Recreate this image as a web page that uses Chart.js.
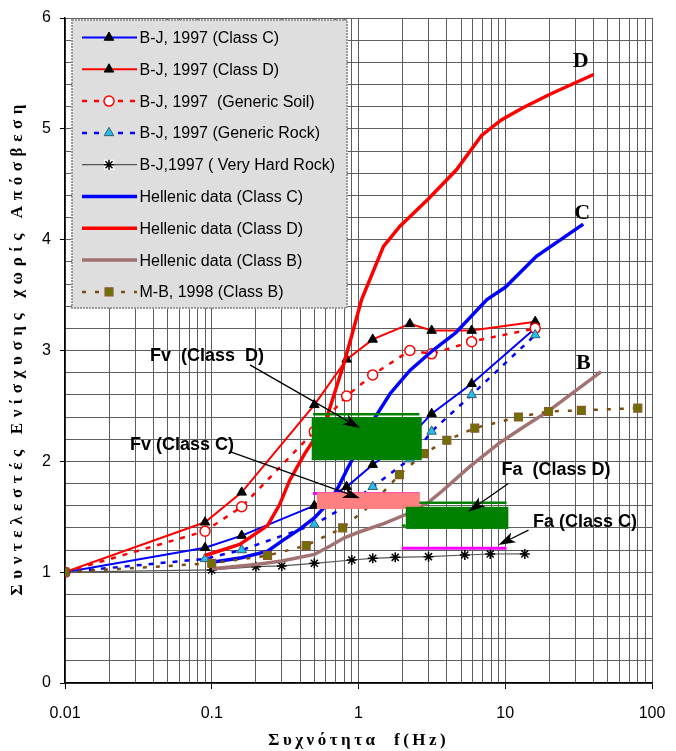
<!DOCTYPE html>
<html><head><meta charset="utf-8">
<script src="https://cdn.jsdelivr.net/npm/chart.js@4/dist/chart.umd.min.js"></script>
<style>html,body{margin:0;padding:0;background:#fff;}canvas{display:block;}</style>
</head><body>
<canvas id="c" width="676" height="751"></canvas>
<script>
// ---------- DATA ----------
const bjFreq      = [0.01, 0.09, 0.16, 0.5, 0.83, 1.25, 2.24, 3.15, 5.9, 16];
const bjClassC    = [1.0, 1.22, 1.33, 1.60, 1.77, 1.97, 2.22, 2.43, 2.70, 3.20];
const bjClassD    = [1.0, 1.45, 1.72, 2.51, 2.92, 3.10, 3.24, 3.18, 3.18, 3.26];
const bjSoil      = [1.0, 1.37, 1.59, 2.27, 2.59, 2.78, 3.00, 2.97, 3.08, 3.20];
const bjRock      = [1.0, 1.12, 1.20, 1.43, 1.60, 1.77, 2.02, 2.27, 2.60, 3.14];
const hardFreq    = [0.01, 0.1, 0.2, 0.3, 0.5, 0.9, 1.25, 1.78, 3.0, 5.3, 7.9, 13.6];
const hardRock    = [1.0, 1.02, 1.05, 1.056, 1.08, 1.11, 1.125, 1.134, 1.14, 1.155, 1.164, 1.165];
const helCFreq    = [0.1, 0.16, 0.24, 0.3, 0.4, 0.5, 0.64, 0.73, 0.83, 0.97, 1.26, 1.64, 2.24, 3.2, 4.6, 7.5, 10, 16.3, 34];
const helCVal     = [1.09, 1.13, 1.19, 1.28, 1.39, 1.49, 1.64, 1.77, 1.92, 2.09, 2.37, 2.61, 2.82, 3.0, 3.16, 3.46, 3.57, 3.85, 4.14];
const helDFreq    = [0.09, 0.155, 0.24, 0.29, 0.34, 0.43, 0.5, 0.61, 0.7, 0.79, 0.88, 1.05, 1.48, 1.91, 3.0, 4.65, 6.9, 9.4, 13.2, 20, 40];
const helDVal     = [1.15, 1.25, 1.42, 1.61, 1.83, 2.07, 2.20, 2.40, 2.65, 2.87, 3.09, 3.46, 3.94, 4.12, 4.37, 4.63, 4.94, 5.08, 5.19, 5.31, 5.49];
const helBFreq    = [0.1, 0.2, 0.3, 0.5, 0.65, 0.8, 1.0, 1.5, 2.1, 3.0, 3.7, 5.7, 9, 13, 20, 45];
const helBVal     = [1.03, 1.07, 1.10, 1.16, 1.24, 1.31, 1.36, 1.44, 1.52, 1.63, 1.73, 1.95, 2.16, 2.30, 2.46, 2.81];
const mbFreq      = [0.01, 0.1, 0.24, 0.44, 0.78, 1.25, 1.9, 2.8, 4.0, 6.2, 12.3, 19.7, 33, 80];
const mbVal       = [1.0, 1.08, 1.15, 1.24, 1.40, 1.62, 1.88, 2.07, 2.19, 2.30, 2.40, 2.45, 2.46, 2.48];

const seriesNames = ['B-J, 1997 (Class C)', 'B-J, 1997 (Class D)', 'B-J, 1997  (Generic Soil)', 'B-J, 1997 (Generic Rock)',
  'B-J,1997 ( Very Hard Rock)', 'Hellenic data (Class C)', 'Hellenic data (Class D)', 'Hellenic data (Class B)', 'M-B, 1998 (Class B)'];

// ranges: [fMin, fMax, valueMin, valueMax] / lines: [fMin, fMax, value]
const fvClassDBox  = [0.48, 2.7, 2.01, 2.40];
const fvClassDLine = [0.49, 2.6, 2.425];
const fvClassCBox  = [0.52, 2.62, 1.57, 1.72];
const fvClassCLine = [0.49, 2.6, 1.71];
const faClassDBox  = [2.1, 10.5, 1.39, 1.59];
const faClassDLine = [2.6, 10.2, 1.627];
const faClassDLow  = [1.97, 2.1, 1.42];
const faClassCLine = [1.97, 10.2, 1.215];

const xMajorValues = [0.01, 0.1, 1, 10, 100];
const xTickLabels  = ['0.01', '0.1', '1', '10', '100'];
const yTickLabels  = ['0', '1', '2', '3', '4', '5', '6'];

const annotationLabels = [
  {text: 'Fv  (Class  D)', at: [0.0928, 2.95]},
  {text: 'Fv (Class C)',   at: [0.0627, 2.147]},
  {text: 'Fa  (Class D)',  at: [22.2, 1.922]},
  {text: 'Fa (Class C)',   at: [34.9, 1.453]}
];
const arrows = [
  [[0.182, 2.87], [1.024, 2.30]],
  [[0.133, 2.087], [1.024, 1.667]],
  [[10.49, 1.80], [5.6, 1.546]],
  [[14.4, 1.38], [8.98, 1.245]]
];
const curveLetters = [
  {text: 'D', at: [32.7, 5.606]},
  {text: 'C', at: [33.5, 4.238]},
  {text: 'B', at: [34.0, 2.885]}
];
const xTitle = 'Συχνότητα  f(Hz)';
const yTitle = 'Συντελεστές Ενίσχυσης χωρίς Απόσβεση';

// ---------- helpers ----------
const zip = (xs, ys) => xs.map((v, i) => ({x: v, y: ys[i]}));
const freqTicks = [];
for (let e = -2; e <= 1; e++) for (let k = 1; k <= 9; k++) freqTicks.push(Number((k * Math.pow(10, e)).toPrecision(2)));
freqTicks.push(100);
const isInt = v => Math.abs(v - Math.round(v)) < 1e-6;

const datasets = [
  {data: zip(bjFreq, bjClassC), borderColor: '#0000ff', borderWidth: 2, pointStyle: 'triangle', pointRadius: 5.5, pointBackgroundColor: '#000', pointBorderColor: '#000', pointBorderWidth: 1},
  {data: zip(bjFreq, bjClassD), borderColor: '#ff0000', borderWidth: 2, pointStyle: 'triangle', pointRadius: 5.5, pointBackgroundColor: '#000', pointBorderColor: '#000', pointBorderWidth: 1},
  {data: zip(bjFreq, bjSoil), borderColor: '#ff0000', borderWidth: 2.5, borderDash: [5, 7], pointStyle: 'circle', pointRadius: 5, pointBackgroundColor: '#fff', pointBorderColor: '#ff0000', pointBorderWidth: 1.5},
  {data: zip(bjFreq, bjRock), borderColor: '#0000ff', borderWidth: 2.5, borderDash: [5, 7], pointStyle: 'triangle', pointRadius: 5.5, pointBackgroundColor: '#20bff0', pointBorderColor: '#3a5a66', pointBorderWidth: 1},
  {data: zip(hardFreq, hardRock), borderColor: '#555', borderWidth: 1.2, pointStyle: 'star', pointRadius: 5, pointBackgroundColor: '#fff', pointBorderColor: '#000', pointBorderWidth: 1.5},
  {data: zip(helCFreq, helCVal), borderColor: '#0000ff', borderWidth: 3.5, pointRadius: 0},
  {data: zip(helDFreq, helDVal), borderColor: '#ff0000', borderWidth: 3.5, pointRadius: 0},
  {data: zip(helBFreq, helBVal), borderColor: '#a27272', borderWidth: 3.5, pointRadius: 0},
  {data: zip(mbFreq, mbVal), borderColor: '#7a4a10', borderWidth: 2.5, borderDash: [4, 9], pointStyle: 'rect', pointRadius: 5.6, pointBackgroundColor: '#707000', pointBorderColor: '#8b5a2b', pointBorderWidth: 1.2}
];
datasets.forEach((d, i) => { d.label = seriesNames[i]; d.order = datasets.length - i; d.fill = false; d.tension = 0; d.showLine = true; d.spanGaps = true; });

function marker(ctx, style, x, y, r, fill, stroke, bw) {
  ctx.save();
  ctx.fillStyle = fill; ctx.strokeStyle = stroke; ctx.lineWidth = bw; ctx.setLineDash([]);
  ctx.beginPath();
  if (style === 'triangle') {
    let a = 0;
    ctx.moveTo(x + Math.sin(a) * r, y - Math.cos(a) * r);
    a += 2 * Math.PI / 3; ctx.lineTo(x + Math.sin(a) * r, y - Math.cos(a) * r);
    a += 2 * Math.PI / 3; ctx.lineTo(x + Math.sin(a) * r, y - Math.cos(a) * r);
    ctx.closePath(); ctx.fill(); ctx.stroke();
  } else if (style === 'circle') {
    ctx.arc(x, y, r, 0, Math.PI * 2); ctx.fill(); ctx.stroke();
  } else if (style === 'rect') {
    const s = r * Math.SQRT1_2; ctx.rect(x - s, y - s, 2 * s, 2 * s); ctx.fill(); ctx.stroke();
  } else if (style === 'star') {
    ctx.fillRect(x - r, y - r, 2 * r, 2 * r);
    ctx.beginPath();
    ctx.moveTo(x, y - r); ctx.lineTo(x, y + r); ctx.moveTo(x - r, y); ctx.lineTo(x + r, y);
    const d = r * Math.SQRT1_2;
    ctx.moveTo(x - d, y - d); ctx.lineTo(x + d, y + d); ctx.moveTo(x - d, y + d); ctx.lineTo(x + d, y - d);
    ctx.stroke();
  }
  ctx.restore();
}

function spacedText(ctx, text, x, y, spacing) {
  const widths = [...text].map(ch => ctx.measureText(ch).width);
  const total = widths.reduce((a, b) => a + b, 0) + spacing * (widths.length - 1);
  let cx = x - total / 2;
  ctx.textAlign = 'left';
  [...text].forEach((ch, i) => { ctx.fillText(ch, cx, y); cx += widths[i] + spacing; });
}

const overlay = {
  id: 'overlay',
  afterDatasetsDraw(chart) {
    const {ctx} = chart; const sx = chart.scales.x, sy = chart.scales.y;
    const px = v => sx.getPixelForValue(v), py = v => sy.getPixelForValue(v);
    ctx.save();
    ctx.beginPath(); ctx.rect(chart.chartArea.left, chart.chartArea.top, chart.chartArea.right - chart.chartArea.left, chart.chartArea.bottom - chart.chartArea.top); ctx.clip();
    const box = (b, color) => { ctx.fillStyle = color; ctx.fillRect(px(b[0]), py(b[3]), px(b[1]) - px(b[0]), py(b[2]) - py(b[3])); };
    const hline = (l, color, w) => { ctx.strokeStyle = color; ctx.lineWidth = w; ctx.setLineDash([]); ctx.beginPath(); ctx.moveTo(px(l[0]), py(l[2])); ctx.lineTo(px(l[1]), py(l[2])); ctx.stroke(); };
    hline(fvClassDLine, '#008000', 2.5);
    box(fvClassDBox, '#008000');
    hline(fvClassCLine, '#ff00ff', 3);
    box(fvClassCBox, '#ff8080');
    hline(faClassDLine, '#008000', 2.5);
    hline(faClassDLow, '#008000', 2.5);
    box(faClassDBox, '#008000');
    hline(faClassCLine, '#ff00ff', 3);
    ctx.restore();

    ctx.save();
    arrows.forEach(a => {
      const x1 = px(a[0][0]), y1 = py(a[0][1]), x2 = px(a[1][0]), y2 = py(a[1][1]);
      const ang = Math.atan2(y2 - y1, x2 - x1), L = 17, W = 5.5;
      ctx.strokeStyle = '#000'; ctx.lineWidth = 1.3;
      ctx.beginPath(); ctx.moveTo(x1, y1); ctx.lineTo(x2 - Math.cos(ang) * L * 0.7, y2 - Math.sin(ang) * L * 0.7); ctx.stroke();
      ctx.fillStyle = '#000'; ctx.beginPath();
      ctx.moveTo(x2, y2);
      ctx.lineTo(x2 - Math.cos(ang) * L + Math.sin(ang) * W, y2 - Math.sin(ang) * L - Math.cos(ang) * W);
      ctx.lineTo(x2 - Math.cos(ang) * L * 0.75, y2 - Math.sin(ang) * L * 0.75);
      ctx.lineTo(x2 - Math.cos(ang) * L - Math.sin(ang) * W, y2 - Math.sin(ang) * L + Math.cos(ang) * W);
      ctx.closePath(); ctx.fill();
    });
    ctx.fillStyle = '#000'; ctx.textBaseline = 'middle'; ctx.textAlign = 'center';
    ctx.font = 'bold 18px "Liberation Sans", Arial, sans-serif';
    annotationLabels.forEach(l => ctx.fillText(l.text, px(l.at[0]), py(l.at[1])));
    ctx.font = 'bold 22px "Liberation Serif", "Times New Roman", serif';
    curveLetters.forEach(l => ctx.fillText(l.text, px(l.at[0]), py(l.at[1])));
    ctx.restore();

    ctx.save();
    const lx = 72, ly = 20, lw = 275, lh = 288;
    ctx.fillStyle = '#dedede'; ctx.fillRect(lx, ly, lw, lh);
    ctx.strokeStyle = '#9a9a9a'; ctx.lineWidth = 2; ctx.setLineDash([2, 1]); ctx.strokeRect(lx, ly, lw, lh);
    ctx.font = '16px "Liberation Sans", Arial, sans-serif'; ctx.textBaseline = 'middle'; ctx.textAlign = 'left';
    datasets.forEach((d, i) => {
      const yy = 37.5 + i * 31.8;
      ctx.strokeStyle = d.borderColor; ctx.lineWidth = d.borderWidth; ctx.setLineDash(d.borderDash || []);
      ctx.beginPath(); ctx.moveTo(82, yy); ctx.lineTo(137, yy); ctx.stroke();
      if (d.pointRadius > 0) marker(ctx, d.pointStyle, 109, yy, d.pointRadius, d.pointBackgroundColor, d.pointBorderColor, d.pointBorderWidth);
      ctx.fillStyle = '#000'; ctx.fillText(d.label, 139.5, yy + 1);
    });
    ctx.restore();
  },
  afterDraw(chart) {
    const {ctx} = chart;
    ctx.save();
    ctx.fillStyle = '#000'; ctx.textBaseline = 'middle';
    ctx.font = 'bold 17px "Liberation Serif", "Times New Roman", serif';
    spacedText(ctx, xTitle, 357, 741, 3.5);
    ctx.translate(18, 350); ctx.rotate(-Math.PI / 2);
    spacedText(ctx, yTitle, 0, 0, 5.6);
    ctx.restore();
  }
};

new Chart(document.getElementById('c'), {
  type: 'line',
  data: {datasets},
  options: {
    responsive: false, animation: false, devicePixelRatio: 1,
    layout: {padding: {top: 18, right: 24, left: 0, bottom: 0}},
    plugins: {legend: {display: false}, tooltip: {enabled: false}},
    scales: {
      x: {
        type: 'logarithmic', min: 0.01, max: 100,
        afterBuildTicks: s => { s.ticks = freqTicks.map(v => ({value: v, major: xMajorValues.includes(v)})); },
        afterFit: s => { s.height = 68; s.paddingLeft = 0; s.paddingRight = 0; },
        ticks: {
          autoSkip: false, maxRotation: 0, minRotation: 0, padding: 15, color: '#000',
          font: {family: '"Liberation Sans", Arial, sans-serif', size: 16},
          callback: v => { const i = xMajorValues.findIndex(m => Math.abs(m - v) < 1e-9); return i >= 0 ? xTickLabels[i] : ''; }
        },
        grid: {color: '#5e5e5e', lineWidth: 1, tickLength: 6,
          tickColor: c => (c.tick && xMajorValues.some(m => Math.abs(m - c.tick.value) < 1e-9)) ? '#000' : 'rgba(0,0,0,0)'},
        border: {display: true, color: '#000', width: 1.5}
      },
      y: {
        type: 'linear', min: 0, max: 6,
        afterFit: s => { s.width = 65; s.paddingTop = 0; s.paddingBottom = 0; },
        ticks: {
          stepSize: 0.2, autoSkip: false, padding: 9, color: '#000',
          font: {family: '"Liberation Sans", Arial, sans-serif', size: 16},
          callback: v => isInt(v) ? yTickLabels[Math.round(v)] : ''
        },
        grid: {color: '#5e5e5e', lineWidth: 1, tickLength: 5,
          tickColor: c => (c.tick && isInt(c.tick.value)) ? '#000' : 'rgba(0,0,0,0)'},
        border: {display: true, color: '#000', width: 1.5}
      }
    }
  },
  plugins: [overlay]
});
</script>
</body></html>
